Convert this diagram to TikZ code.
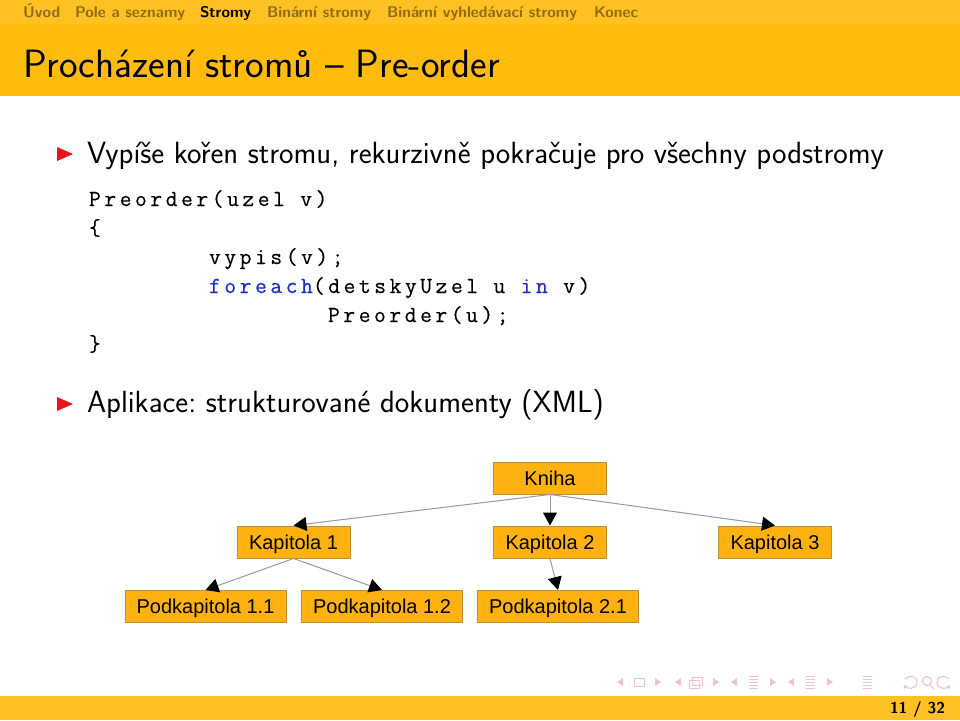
\documentclass[tikz,border=0pt]{standalone}
\usepackage{fontspec}
\usetikzlibrary{arrows.meta}
\newfontfamily\boxfont{Liberation Sans}
\newfontfamily\codefont[LetterSpace=15.2,FakeBold=0.35]{Latin Modern Mono}
\definecolor{band}{HTML}{FFBC0C}
\definecolor{bandlight}{HTML}{FFC122}
\definecolor{navtext}{HTML}{8F6B1C}
\definecolor{boxfill}{HTML}{FFB20F}
\definecolor{boxline}{HTML}{B8923A}
\definecolor{edgeline}{HTML}{9A9A9A}
\definecolor{bullet}{HTML}{E8141C}
\definecolor{kw}{HTML}{1A2FC8}
\definecolor{navsym}{HTML}{F0C4C4}
\tikzset{
 x=1pt,y=-1pt,
 txt/.style={anchor=base west,inner sep=0pt,outer sep=0pt},
 nav/.style={txt,font=\fontsize{15.5}{15.5}\sffamily\bfseries,text=navtext},
 body/.style={txt,font=\fontsize{30.7}{30.7}\sffamily\frenchspacing},
 code/.style={txt,font=\fontsize{23}{23}\codefont},
 bx/.style={draw=boxline,line width=1pt,fill=boxfill,inner sep=0pt,minimum height=32pt,text height=16pt,text depth=2pt,font=\fontsize{20}{20}\boxfont,text=black},
 short/.style={bx,minimum width=113pt},
 long/.style={bx,minimum width=161pt},
 edge/.style={draw=edgeline,line width=1pt,-{Triangle[black,length=13pt,width=14pt]}},
 tri/.style={fill=bullet,draw=none},
 sym/.style={draw=navsym,line width=1pt,fill=none},
 symf/.style={fill=navsym,draw=none}
}
\begin{document}
\begin{tikzpicture}
\useasboundingbox (0,0) rectangle (960,720);
\fill[white] (0,0) rectangle (960,720);
\fill[band] (0,0) rectangle (960,96);
\fill[bandlight] (0,0) rectangle (960,24);
\fill[bandlight] (0,696) rectangle (960,720);
\node[nav] (n1) at (23,17) {Úvod};
\node[nav] (n2) at (75,17) {Pole a seznamy};
\node[nav,text=black] (n3) at (200,17) {Stromy};
\node[nav] (n4) at (267,17) {Binární stromy};
\node[nav] (n5) at (387,17) {Binární vyhledávací stromy};
\node[nav] (n6) at (594,17) {Konec};
\node[txt,font=\fontsize{39.5}{39.5}\sffamily,text=black!90!blue] (title) at (23,77) {Procházení stromů -- Pre-order};
\fill[tri] (57,147) -- (73,154) -- (57,161) -- cycle;
\node[body] (b1) at (87,163) {Vypíše kořen stromu, rekurzivně pokračuje pro všechny podstromy};
\node[code] (c1) at (89,206) {Preorder(uzel v)};
\node[code] (c2) at (89,235) {\{};
\node[code] (c3) at (209,264) {vypis(v);};
\node[code] (c4) at (209,293) {\textcolor{kw}{foreach}(detskyUzel u \textcolor{kw}{in} v)};
\node[code] (c5) at (328,322) {Preorder(u);};
\node[code] (c6) at (89,351) {\}};
\fill[tri] (57,397) -- (73,404) -- (57,411) -- cycle;
\node[body] (b2) at (87,412) {Aplikace: strukturované dokumenty (XML)};
\node[short] (k) at (550,478) {Kniha};
\node[short] (k1) at (293.5,542) {Kapitola 1};
\node[short] (k2) at (550,542) {Kapitola 2};
\node[short] (k3) at (775,542) {Kapitola 3};
\node[long] (p11) at (205.5,606.5) {Podkapitola 1.1};
\node[long] (p12) at (382,606.5) {Podkapitola 1.2};
\node[long] (p21) at (558,606.5) {Podkapitola 2.1};
\draw[edge] (k.south) -- (k1.north);
\draw[edge] (k.south) -- (k2.north);
\draw[edge] (k.south) -- (k3.north);
\draw[edge] (k1.south) -- (p11.north);
\draw[edge] (k1.south) -- (p12.north);
\draw[edge] (k2.south) -- (p21.north);
% navigation symbols
\foreach \x in {617,675,731,788}{\fill[symf] (\x+6,678) -- (\x,682) -- (\x+6,686) -- cycle;}
\foreach \x in {655,713,770,827}{\fill[symf] (\x,678) -- (\x+6,682) -- (\x,686) -- cycle;}
\draw[sym] (634,678) rectangle (644,686);
\draw[sym] (689,680) rectangle (699,688);
\draw[sym] (692,677) rectangle (702,685);
\foreach \x in {749,806,863}{\foreach \y in {676,679,682,685,688}{\draw[sym] (\x,\y) -- (\x+9,\y);}}
\draw[sym,{Stealth[length=4pt,width=5pt]}-] (904,685) .. controls (907,689) and (917,690) .. (917,682) .. controls (917,675) and (908,675) .. (905,679);
\draw[sym] (927,681) circle[radius=4.5];
\draw[sym] (930,685) -- (934,689);
\draw[sym,{Stealth[length=4pt,width=5pt]}-] (950,685) .. controls (947,689) and (937,690) .. (937,682) .. controls (937,675) and (946,675) .. (949,679);
\node[txt,font=\fontsize{15.8}{15.8}\sffamily\bfseries,text=black] (pg) at (890,713) {11 / 32};
\end{tikzpicture}
\end{document}
